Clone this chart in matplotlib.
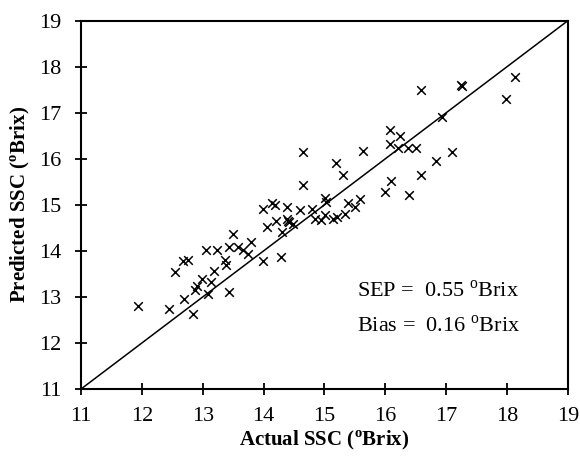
import numpy as np
import matplotlib.pyplot as plt

plt.rcParams['font.family'] = ['Liberation Serif', 'DejaVu Serif']
plt.rcParams['mathtext.fontset'] = 'custom'
plt.rcParams['mathtext.rm'] = 'Liberation Serif'
plt.rcParams['mathtext.bf'] = 'Liberation Serif:bold'

actual = [11.94, 12.45, 12.70, 12.84, 12.54, 12.68, 12.75, 12.88, 12.90, 12.99,
          13.09, 13.14, 13.19, 13.05, 13.24, 13.36, 13.39, 13.44, 13.50, 13.43,
          13.58, 13.66, 13.75, 13.80, 13.99, 14.29, 13.99, 14.14, 14.19, 14.05,
          14.20, 14.30, 14.39, 14.38, 14.40, 14.42, 14.49, 14.60, 14.64, 14.64,
          14.80, 14.84, 14.95, 15.01, 15.01, 15.03, 15.14, 15.20, 15.33, 15.19,
          15.30, 15.39, 15.50, 15.58, 15.64, 15.99, 16.09, 16.39, 16.59, 16.84,
          17.09, 16.07, 16.24, 16.08, 16.21, 16.38, 16.50, 16.59, 16.94, 17.24,
          17.26, 17.99, 18.14]
predicted = [12.80, 12.73, 12.96, 12.62, 13.54, 13.78, 13.81, 13.16, 13.24, 13.38,
             13.06, 13.33, 13.57, 14.02, 14.02, 13.80, 13.69, 13.10, 14.37, 14.09,
             14.08, 14.02, 13.94, 14.20, 13.77, 13.86, 14.92, 15.05, 15.00, 14.51,
             14.65, 14.41, 14.96, 14.70, 14.66, 14.62, 14.59, 14.88, 16.14, 15.43,
             14.90, 14.70, 14.67, 14.78, 15.16, 15.07, 14.70, 14.74, 14.81, 15.92,
             15.65, 15.03, 14.96, 15.12, 16.17, 15.27, 15.52, 15.21, 15.65, 15.96,
             16.15, 16.62, 16.49, 16.33, 16.23, 16.23, 16.23, 17.49, 16.91, 17.60,
             17.58, 17.31, 17.78]

fig = plt.figure(figsize=(5.8, 4.72), dpi=100)
ax = fig.add_axes([0.1397, 0.1758, 0.8393, 0.7803])

ax.plot([11, 19], [11, 19], color='black', lw=1.1)
ax.scatter(actual, predicted, marker='x', color='black', s=38, linewidths=1.1, zorder=3)

ax.set_xlim(11, 19)
ax.set_ylim(11, 19)
ax.set_xticks(np.arange(11, 20, 1))
ax.set_yticks(np.arange(11, 20, 1))
ax.tick_params(direction='inout', length=8, width=1.3, labelsize=16)
ax.tick_params(axis='x', pad=9)
ax.tick_params(axis='y', pad=10)
for s in ax.spines.values():
    s.set_linewidth(1.5)

ax.set_xlabel(r'Actual SSC ($^{\mathbf{o}}$Brix)', fontsize=15, fontweight='bold', labelpad=2)
ax.set_ylabel(r'Predicted SSC ($^{\mathbf{o}}$Brix)', fontsize=15, fontweight='bold', labelpad=5)

ax.text(15.53, 13.0, r'SEP =  0.55 $^{\mathrm{o}}$Brix', fontsize=16, va='baseline')
ax.text(15.53, 12.24, r'Bias =  0.16 $^{\mathrm{o}}$Brix', fontsize=16, va='baseline')

fig.savefig('out.png', dpi=100)
